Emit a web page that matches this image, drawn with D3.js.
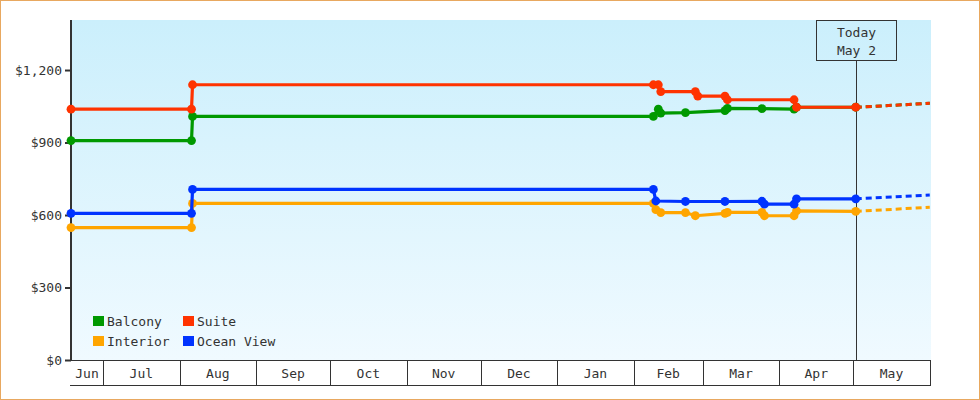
<!DOCTYPE html>
<html lang="en">
	<head>
		<meta charset="utf-8">
		<title>Cabin price history</title>
		<script type="text/javascript" src="https://cdn.jsdelivr.net/npm/d3@7"></script>
		<style>
			body { margin: 0; background: #fff; }
			text { font-family: "DejaVu Sans Mono", monospace; font-size: 13px; fill: #333; }
		</style>
	</head>
	<body>
		<script type="text/javascript">

			//
			// Data
			//

			var seriesNames = ["Balcony", "Interior", "Suite", "Ocean View"];
			var seriesColors = ["#009900", "#ffa500", "#ff3300", "#0033ff"];

			var balcony = [
				["2022-06-18", 908], ["2022-08-05 20:00", 908], ["2022-08-06 06:00", 1008],
				["2023-02-09", 1008], ["2023-02-11", 1038], ["2023-02-12", 1022],
				["2023-02-22", 1024], ["2023-03-10", 1032], ["2023-03-11", 1041],
				["2023-03-25", 1040], ["2023-04-07", 1038], ["2023-04-08", 1046],
				["2023-05-02", 1046]
			];
			var interior = [
				["2022-06-18", 548], ["2022-08-05 20:00", 548], ["2022-08-06 06:00", 648],
				["2023-02-09", 648], ["2023-02-10", 622], ["2023-02-12", 610],
				["2023-02-22", 610], ["2023-02-26", 597], ["2023-03-10", 607],
				["2023-03-11", 611], ["2023-03-25", 611], ["2023-03-26", 597],
				["2023-04-07", 597], ["2023-04-08", 617], ["2023-05-02", 615]
			];
			var suite = [
				["2022-06-18", 1038], ["2022-08-05 20:00", 1038], ["2022-08-06 06:00", 1139],
				["2023-02-09", 1139], ["2023-02-11", 1139], ["2023-02-12", 1111],
				["2023-02-26", 1111], ["2023-02-27", 1092], ["2023-03-10", 1092],
				["2023-03-11", 1077], ["2023-04-07", 1077], ["2023-04-08", 1046],
				["2023-05-02", 1046]
			];
			var oceanView = [
				["2022-06-18", 607], ["2022-08-05 20:00", 607], ["2022-08-06 06:00", 706],
				["2023-02-09", 706], ["2023-02-10", 658], ["2023-02-22", 656],
				["2023-03-10", 656], ["2023-03-25", 657], ["2023-03-26", 645],
				["2023-04-07", 645], ["2023-04-08", 667], ["2023-05-02", 667]
			];

			// projected price at the end of the chart (dashed part)
			var forecastDate = "2023-06-01";
			var forecastPrices = [1062, 632, 1062, 683];

			var startDate = "2022-06-18";
			var todayDate = "2023-05-02";
			var todayLabel = ["Today", "May 2"];
			var yTicks = [0, 300, 600, 900, 1200];
			var yMax = 1407;

			//
			// Drawing
			//

			var parseDay = d3.timeParse("%Y-%m-%d");
			var parseHour = d3.timeParse("%Y-%m-%d %H:%M");
			var parseDate = function(s) {
				return parseHour(s) || parseDay(s);
			};
			var allSeries = [balcony, interior, suite, oceanView];

			var svg = d3.select("body")
				.append("svg")
				.attr("width", 980)
				.attr("height", 400);

			svg.append("rect")
				.attr("x", 0.5).attr("y", 0.5)
				.attr("width", 979).attr("height", 399)
				.attr("fill", "#fff")
				.attr("stroke", "#e8a860");

			var grad = svg.append("defs").append("linearGradient")
				.attr("id", "bg")
				.attr("x1", 0).attr("y1", 0).attr("x2", 0).attr("y2", 1);
			grad.append("stop").attr("offset", "0%").attr("stop-color", "#cbeffc");
			grad.append("stop").attr("offset", "100%").attr("stop-color", "#f0faff");

			var plotLeft = 71, plotRight = 931, plotTop = 20, plotBottom = 360;

			var x = d3.scaleTime()
				.domain([parseDate(startDate), d3.timeHour.offset(parseDate(forecastDate), 12)])
				.range([plotLeft, plotRight]);

			var y = d3.scaleLinear()
				.domain([0, yMax])
				.range([plotBottom, plotTop]);

			svg.append("rect")
				.attr("x", plotLeft).attr("y", plotTop)
				.attr("width", plotRight - plotLeft).attr("height", plotBottom - plotTop)
				.attr("fill", "url(#bg)");

			// month band under the plot
			var months = d3.timeMonth.range(d3.timeMonth.floor(parseDate(startDate)), parseDate(forecastDate));
			var band = svg.append("g");
			band.append("line")
				.attr("x1", plotLeft - 1).attr("x2", plotRight)
				.attr("y1", 385.5).attr("y2", 385.5)
				.attr("stroke", "#333");
			band.append("line")
				.attr("x1", plotLeft).attr("x2", plotRight)
				.attr("y1", plotBottom + 0.5).attr("y2", plotBottom + 0.5)
				.attr("stroke", "#333");
			band.selectAll("line.sep")
				.data(months.map(function(d) { return d3.timeMonth.offset(d, 1); }))
				.enter()
				.append("line")
				.attr("class", "sep")
				.attr("x1", function(d) { return Math.round(x(d)) + 0.5; })
				.attr("x2", function(d) { return Math.round(x(d)) + 0.5; })
				.attr("y1", plotBottom).attr("y2", 385)
				.attr("stroke", "#333");
			band.selectAll("text")
				.data(months)
				.enter()
				.append("text")
				.attr("x", function(d) {
					var a = Math.max(x(d), plotLeft);
					var b = x(d3.timeMonth.offset(d, 1));
					return (a + b) / 2;
				})
				.attr("y", 378)
				.attr("text-anchor", "middle")
				.text(d3.timeFormat("%b"));

			// y axis
			var yAxis = svg.append("g")
				.attr("transform", "translate(" + plotLeft + ",0)")
				.call(d3.axisLeft(y)
					.tickValues(yTicks)
					.tickFormat(d3.format("$,"))
					.tickSize(6)
					.tickSizeOuter(0)
					.tickPadding(3));
			yAxis.select(".domain")
				.attr("stroke", "#333")
				.attr("stroke-width", 2)
				.attr("d", "M0," + plotTop + "V" + (plotBottom + 1));
			yAxis.selectAll(".tick line").attr("stroke", "#333").attr("stroke-width", 2);
			yAxis.attr("font-family", null).attr("font-size", null);
			yAxis.selectAll(".tick text").attr("fill", "#333");

			// today marker
			var tx = Math.round(x(parseDate(todayDate))) + 0.5;
			svg.append("line")
				.attr("x1", tx).attr("x2", tx)
				.attr("y1", 60).attr("y2", plotBottom)
				.attr("stroke", "#333");
			svg.append("rect")
				.attr("x", tx - 40).attr("y", plotTop + 0.5)
				.attr("width", 80).attr("height", 40)
				.attr("fill", "none")
				.attr("stroke", "#333");
			svg.selectAll("text.today")
				.data(todayLabel)
				.enter()
				.append("text")
				.attr("class", "today")
				.attr("x", tx)
				.attr("y", function(d, i) { return 37 + i * 18; })
				.attr("text-anchor", "middle")
				.text(function(d) { return d; });

			// series
			var line = d3.line()
				.x(function(d) { return x(parseDate(d[0])); })
				.y(function(d) { return y(d[1]); });

			allSeries.forEach(function(data, i) {
				var g = svg.append("g");
				var last = data[data.length - 1];

				g.append("path")
					.datum([last, [forecastDate, forecastPrices[i]]])
					.attr("d", line)
					.attr("fill", "none")
					.attr("stroke", seriesColors[i])
					.attr("stroke-width", 3)
					.attr("stroke-dasharray", "6,4");

				g.append("path")
					.datum(data)
					.attr("d", line)
					.attr("fill", "none")
					.attr("stroke", seriesColors[i])
					.attr("stroke-width", 3.2);

				g.selectAll("circle")
					.data(data)
					.enter()
					.append("circle")
					.attr("cx", function(d) { return x(parseDate(d[0])); })
					.attr("cy", function(d) { return y(d[1]); })
					.attr("r", 4.4)
					.attr("fill", seriesColors[i]);
			});

			// legend
			var legend = svg.append("g")
				.selectAll("g")
				.data(seriesNames)
				.enter()
				.append("g")
				.attr("transform", function(d, i) {
					return "translate(" + (93 + Math.floor(i / 2) * 90) + "," + (316 + (i % 2) * 20) + ")";
				});
			legend.append("rect")
				.attr("width", 11).attr("height", 10)
				.attr("fill", function(d, i) { return seriesColors[i]; });
			legend.append("text")
				.attr("x", 14).attr("y", 9.5)
				.text(function(d) { return d; });

		</script>
	</body>
</html>
